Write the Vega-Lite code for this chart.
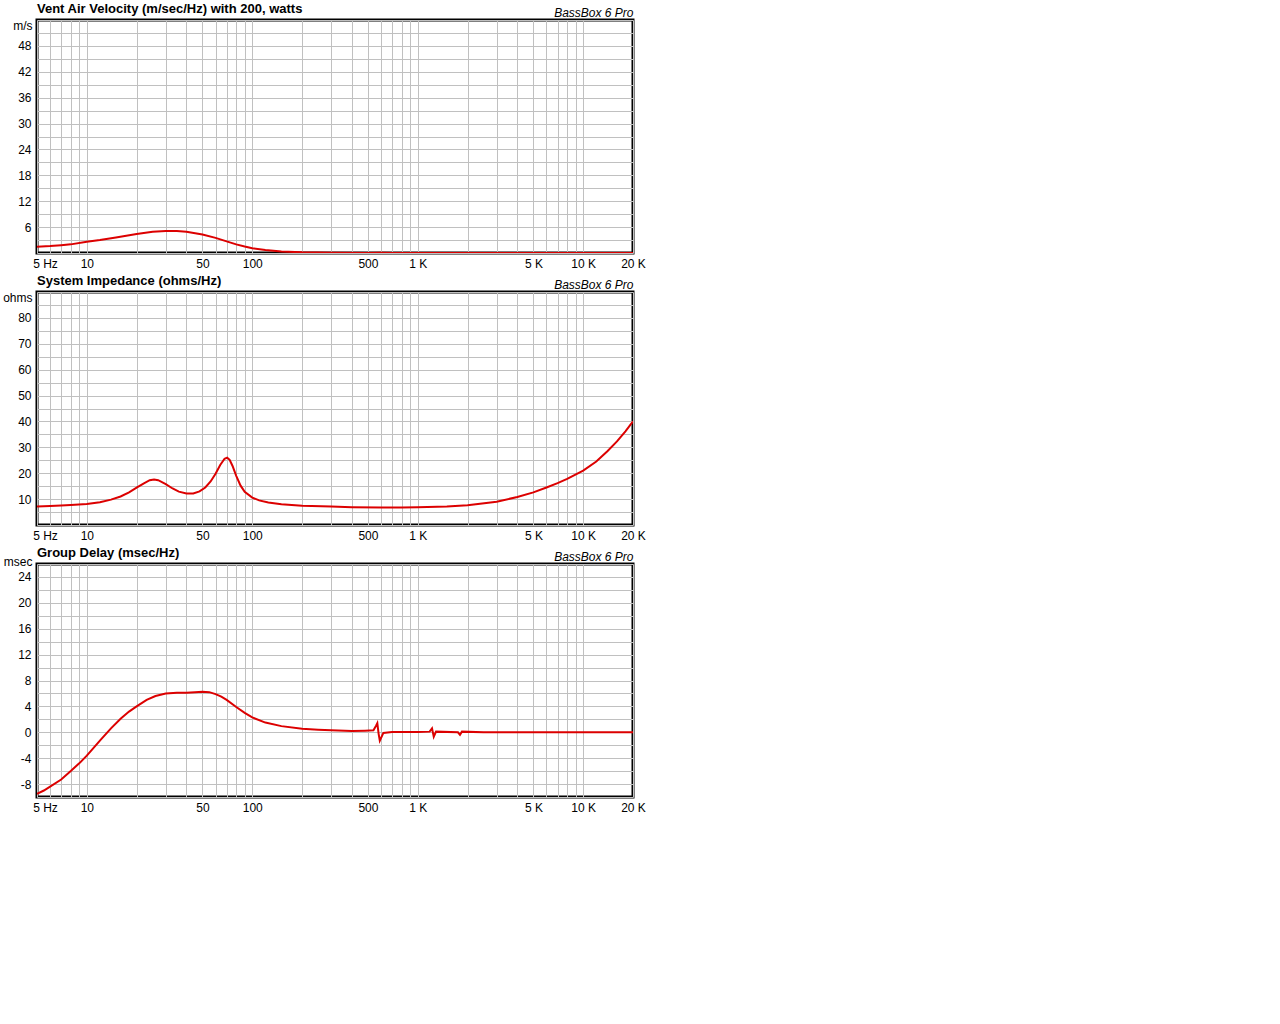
{
  "$schema": "https://vega.github.io/schema/vega-lite/v6.json",
  "background": "white",
  "padding": {"left": 1, "top": 1, "right": 5, "bottom": 5},
  "spacing": 2,
  "config": {
    "view": {"stroke": "black", "strokeWidth": 3},
    "font": "Liberation Sans",
    "axis": {
      "labelFont": "Liberation Sans", "labelFontSize": 12, "labelColor": "black",
      "titleFont": "Liberation Sans", "titleFontSize": 12, "titleColor": "black", "titleFontWeight": "normal",
      "gridColor": "#c0c0c0", "gridWidth": 1, "gridOpacity": 1,
      "ticks": false, "domain": false, "labelOverlap": false, "labelBound": false, "labelFlush": false
    },
    "title": {"font": "Liberation Sans", "fontSize": 13, "fontWeight": "bold", "color": "black", "anchor": "start", "frame": "group", "offset": -10}
  },
  "datasets": {
    "vent": [
      {"f": 5, "v": 1.45}, {"f": 6, "v": 1.6}, {"f": 7, "v": 1.8}, {"f": 8, "v": 2.0}, {"f": 10, "v": 2.6},
      {"f": 12, "v": 3.0}, {"f": 15, "v": 3.6}, {"f": 20, "v": 4.4}, {"f": 25, "v": 4.9}, {"f": 30, "v": 5.1},
      {"f": 35, "v": 5.1}, {"f": 40, "v": 4.9}, {"f": 50, "v": 4.3}, {"f": 60, "v": 3.5}, {"f": 70, "v": 2.7},
      {"f": 80, "v": 2.0}, {"f": 90, "v": 1.5}, {"f": 100, "v": 1.1}, {"f": 120, "v": 0.7}, {"f": 150, "v": 0.35},
      {"f": 200, "v": 0.15}, {"f": 300, "v": 0.05}, {"f": 500, "v": 0.02}, {"f": 600, "v": 0.06}, {"f": 700, "v": 0.02},
      {"f": 1000, "v": 0.01}, {"f": 20000, "v": 0.0}
    ],
    "imp": [
      {"f": 5, "z": 7.1}, {"f": 6, "z": 7.3}, {"f": 7, "z": 7.5}, {"f": 8, "z": 7.7}, {"f": 10, "z": 8.1},
      {"f": 12, "z": 8.8}, {"f": 14, "z": 9.8}, {"f": 16, "z": 11.0}, {"f": 18, "z": 12.6}, {"f": 20, "z": 14.4},
      {"f": 22, "z": 16.0}, {"f": 24, "z": 17.3}, {"f": 25.5, "z": 17.6}, {"f": 27, "z": 17.3}, {"f": 30, "z": 15.8},
      {"f": 33, "z": 14.1}, {"f": 36, "z": 12.9}, {"f": 40, "z": 12.2}, {"f": 44, "z": 12.2}, {"f": 48, "z": 13.0},
      {"f": 52, "z": 14.5}, {"f": 56, "z": 16.8}, {"f": 60, "z": 19.8}, {"f": 64, "z": 23.2}, {"f": 68, "z": 25.6},
      {"f": 70.5, "z": 26.0}, {"f": 73, "z": 25.2}, {"f": 76, "z": 22.8}, {"f": 80, "z": 19.0}, {"f": 85, "z": 15.2},
      {"f": 90, "z": 12.8}, {"f": 100, "z": 10.6}, {"f": 110, "z": 9.5}, {"f": 125, "z": 8.7}, {"f": 150, "z": 8.0},
      {"f": 200, "z": 7.4}, {"f": 300, "z": 7.1}, {"f": 400, "z": 6.9}, {"f": 600, "z": 6.8}, {"f": 800, "z": 6.8},
      {"f": 1000, "z": 6.9}, {"f": 1500, "z": 7.1}, {"f": 2000, "z": 7.6}, {"f": 3000, "z": 9.0}, {"f": 4000, "z": 10.8},
      {"f": 5000, "z": 12.6}, {"f": 6000, "z": 14.5}, {"f": 7000, "z": 16.2}, {"f": 8000, "z": 17.8}, {"f": 10000, "z": 21.0},
      {"f": 12000, "z": 24.5}, {"f": 14000, "z": 28.5}, {"f": 16000, "z": 32.3}, {"f": 18000, "z": 36.2}, {"f": 20000, "z": 40.0}
    ],
    "gd": [
      {"f": 5, "d": -9.5}, {"f": 5.5, "d": -9.0}, {"f": 6, "d": -8.4}, {"f": 7, "d": -7.3}, {"f": 8, "d": -6.0},
      {"f": 9, "d": -4.8}, {"f": 10, "d": -3.6}, {"f": 12, "d": -1.3}, {"f": 14, "d": 0.6}, {"f": 16, "d": 2.1},
      {"f": 18, "d": 3.2}, {"f": 20, "d": 4.0}, {"f": 23, "d": 5.0}, {"f": 26, "d": 5.6}, {"f": 30, "d": 6.0},
      {"f": 35, "d": 6.1}, {"f": 40, "d": 6.1}, {"f": 45, "d": 6.2}, {"f": 50, "d": 6.25}, {"f": 55, "d": 6.2},
      {"f": 60, "d": 5.9}, {"f": 65, "d": 5.5}, {"f": 70, "d": 5.0}, {"f": 80, "d": 3.9}, {"f": 90, "d": 3.0},
      {"f": 100, "d": 2.3}, {"f": 120, "d": 1.5}, {"f": 150, "d": 0.95}, {"f": 200, "d": 0.55}, {"f": 250, "d": 0.4},
      {"f": 300, "d": 0.3}, {"f": 400, "d": 0.2}, {"f": 480, "d": 0.25}, {"f": 540, "d": 0.3}, {"f": 560, "d": 1.0},
      {"f": 570, "d": 1.4}, {"f": 580, "d": -0.2}, {"f": 590, "d": -1.3}, {"f": 600, "d": -0.9}, {"f": 620, "d": -0.1},
      {"f": 700, "d": 0.05}, {"f": 1000, "d": 0.05}, {"f": 1180, "d": 0.1}, {"f": 1220, "d": 0.6}, {"f": 1250, "d": -0.7},
      {"f": 1290, "d": 0.1}, {"f": 1750, "d": 0.0}, {"f": 1800, "d": -0.4}, {"f": 1850, "d": 0.1}, {"f": 2500, "d": 0.0},
      {"f": 4000, "d": 0.0}, {"f": 20000, "d": 0.0}
    ]
  },
  "vconcat": [
    {
      "width": 596, "height": 233,
      "title": {"text": "Vent Air Velocity (m/sec/Hz) with 200, watts"},
      "data": {"name": "vent"},
      "resolve": {"axis": {"x": "independent"}},
      "layer": [
        {
          "mark": {"type": "line", "color": "#dc0000", "strokeWidth": 2, "clip": true},
          "encoding": {
            "x": {"field": "f", "type": "quantitative", "scale": {"type": "log", "domain": [5, 20000], "nice": false},
              "axis": {"orient": "bottom", "title": null, "labelPadding": 5,
                "values": [5,6,7,8,9,10,20,30,40,50,60,70,80,90,100,200,300,400,500,600,700,800,900,1000,2000,3000,4000,5000,6000,7000,8000,9000,10000,20000],
                "labelOffset": {"condition": {"test": "datum.value == 5", "value": 8}, "value": 0},
                "labelExpr": "datum.value == 5 ? '5 Hz' : datum.value == 10 ? '10' : datum.value == 50 ? '50' : datum.value == 100 ? '100' : datum.value == 500 ? '500' : datum.value == 1000 ? '1 K' : datum.value == 5000 ? '5 K' : datum.value == 10000 ? '10 K' : datum.value == 20000 ? '20 K' : ''"}},
            "y": {"field": "v", "type": "quantitative", "scale": {"domain": [0, 54], "nice": false, "zero": false},
              "axis": {"values": [0,3,6,9,12,15,18,21,24,27,30,33,36,39,42,45,48,51,54], "labelPadding": 6,
                "labelExpr": "datum.value % 6 == 0 && datum.value > 0 && datum.value < 54 ? toString(datum.value) : ''",
                "title": "m/s", "titleAngle": 0, "titleAlign": "right", "titleBaseline": "middle", "titleX": -5, "titleY": 5}}
          }
        },
        {
          "mark": {"type": "point", "opacity": 0},
          "encoding": {
            "x": {"field": "f", "type": "quantitative",
              "axis": {"orient": "top", "labels": false, "grid": false, "title": "BassBox 6 Pro", "titleAnchor": "end", "titleFontStyle": "italic", "titlePadding": 1}}
          }
        }
      ]
    },
    {
      "width": 596, "height": 233,
      "title": {"text": "System Impedance (ohms/Hz)"},
      "data": {"name": "imp"},
      "resolve": {"axis": {"x": "independent"}},
      "layer": [
        {
          "mark": {"type": "line", "color": "#dc0000", "strokeWidth": 2, "clip": true},
          "encoding": {
            "x": {"field": "f", "type": "quantitative", "scale": {"type": "log", "domain": [5, 20000], "nice": false},
              "axis": {"orient": "bottom", "title": null, "labelPadding": 5,
                "values": [5,6,7,8,9,10,20,30,40,50,60,70,80,90,100,200,300,400,500,600,700,800,900,1000,2000,3000,4000,5000,6000,7000,8000,9000,10000,20000],
                "labelOffset": {"condition": {"test": "datum.value == 5", "value": 8}, "value": 0},
                "labelExpr": "datum.value == 5 ? '5 Hz' : datum.value == 10 ? '10' : datum.value == 50 ? '50' : datum.value == 100 ? '100' : datum.value == 500 ? '500' : datum.value == 1000 ? '1 K' : datum.value == 5000 ? '5 K' : datum.value == 10000 ? '10 K' : datum.value == 20000 ? '20 K' : ''"}},
            "y": {"field": "z", "type": "quantitative", "scale": {"domain": [0, 90], "nice": false, "zero": false},
              "axis": {"values": [0,5,10,15,20,25,30,35,40,45,50,55,60,65,70,75,80,85,90], "labelPadding": 6,
                "labelExpr": "datum.value % 10 == 0 && datum.value > 0 && datum.value < 90 ? toString(datum.value) : ''",
                "title": "ohms", "titleAngle": 0, "titleAlign": "right", "titleBaseline": "middle", "titleX": -5, "titleY": 5}}
          }
        },
        {
          "mark": {"type": "point", "opacity": 0},
          "encoding": {
            "x": {"field": "f", "type": "quantitative",
              "axis": {"orient": "top", "labels": false, "grid": false, "title": "BassBox 6 Pro", "titleAnchor": "end", "titleFontStyle": "italic", "titlePadding": 1}}
          }
        }
      ]
    },
    {
      "width": 596, "height": 233,
      "title": {"text": "Group Delay (msec/Hz)"},
      "data": {"name": "gd"},
      "resolve": {"axis": {"x": "independent"}},
      "layer": [
        {
          "mark": {"type": "line", "color": "#dc0000", "strokeWidth": 2, "clip": true},
          "encoding": {
            "x": {"field": "f", "type": "quantitative", "scale": {"type": "log", "domain": [5, 20000], "nice": false},
              "axis": {"orient": "bottom", "title": null, "labelPadding": 5,
                "values": [5,6,7,8,9,10,20,30,40,50,60,70,80,90,100,200,300,400,500,600,700,800,900,1000,2000,3000,4000,5000,6000,7000,8000,9000,10000,20000],
                "labelOffset": {"condition": {"test": "datum.value == 5", "value": 8}, "value": 0},
                "labelExpr": "datum.value == 5 ? '5 Hz' : datum.value == 10 ? '10' : datum.value == 50 ? '50' : datum.value == 100 ? '100' : datum.value == 500 ? '500' : datum.value == 1000 ? '1 K' : datum.value == 5000 ? '5 K' : datum.value == 10000 ? '10 K' : datum.value == 20000 ? '20 K' : ''"}},
            "y": {"field": "d", "type": "quantitative", "scale": {"domain": [-10, 26], "nice": false, "zero": false},
              "axis": {"values": [-10,-8,-6,-4,-2,0,2,4,6,8,10,12,14,16,18,20,22,24,26], "labelPadding": 6,
                "labelExpr": "datum.value % 4 == 0 && datum.value > -10 && datum.value < 26 ? toString(datum.value) : ''",
                "title": "msec", "titleAngle": 0, "titleAlign": "right", "titleBaseline": "middle", "titleX": -5, "titleY": -3}}
          }
        },
        {
          "mark": {"type": "point", "opacity": 0},
          "encoding": {
            "x": {"field": "f", "type": "quantitative",
              "axis": {"orient": "top", "labels": false, "grid": false, "title": "BassBox 6 Pro", "titleAnchor": "end", "titleFontStyle": "italic", "titlePadding": 1}}
          }
        }
      ]
    }
  ]
}
